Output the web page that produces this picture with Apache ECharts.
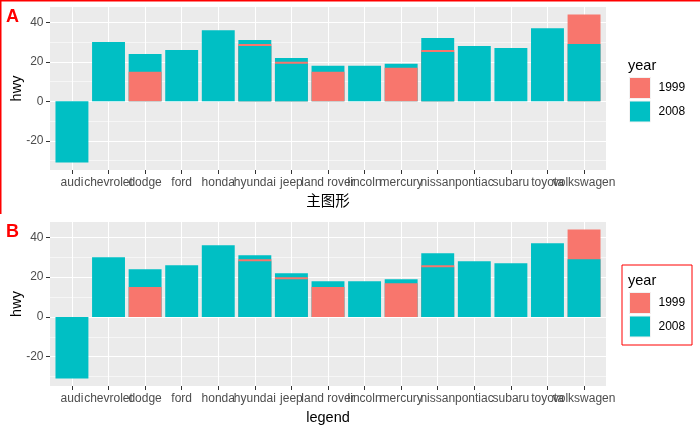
<!DOCTYPE html>
<html>
<head>
<meta charset="utf-8">
<script src="https://cdn.jsdelivr.net/npm/echarts@6/dist/echarts.min.js"></script>
<style>
html,body{margin:0;padding:0;background:#fff;}
#chart{width:700px;height:432px;}
</style>
</head>
<body>
<div id="chart"></div>
<script>
// ---- data ----
const categories = ['audi','chevrolet','dodge','ford','honda','hyundai','jeep','land rover','lincoln','mercury','nissan','pontiac','subaru','toyota','volkswagen'];
// visible bar layers (drawn back to front)
const hwy2008Back  = [-31, 30, 24, 26, 36, 31, 22, 18, 18, 19, 32, 28, 27, 37, null];
const hwy1999      = [null, null, 15, null, null, 29, 20, 15, null, 17, 26, null, null, null, 44];
const hwy2008Front = [null, null, null, null, null, 28, 19, null, null, null, 25, null, null, null, 29];
const yTicks = [-20, 0, 20, 40];
const yearLevels = ['1999', '2008'];
const panelLabels = ['A', 'B'];
const xTitles = ['主图形', 'legend'];
const yTitle = 'hwy';

// ---- styles ----
const FONT = 'Liberation Sans, Arial, Noto Sans CJK SC, sans-serif';
const COL1999 = '#F8766D', COL2008 = '#00BFC4';
const panels = [
  {left: 50, top: 7, width: 556, height: 163},
  {left: 50, top: 222, width: 556, height: 164}
];

const allVals = [].concat(hwy2008Back, hwy1999, hwy2008Front).filter(v => v != null);
const lo = Math.min(0, ...allVals), hi = Math.max(0, ...allVals);
const pad = (hi - lo) * 0.05;
const yMin = lo - pad, yMax = hi + pad;
const EXP = 0.6; // discrete axis expansion (ggplot)
const xMin = 1 - EXP, xMax = categories.length + EXP;
const xPos = categories.map((c, i) => i + 1);
const toPts = arr => arr.map((v, i) => [i + 1, v]);

const gridList = [], xList = [], yList = [];
// main panels (value axes: bars, gridlines, ticks)
panels.forEach((g, k) => {
  gridList.push(Object.assign({}, g, {show: true, backgroundColor: '#EBEBEB', borderWidth: 0, containLabel: false, outerBoundsMode: 'none'}));
  xList.push({
    type: 'value', gridIndex: k, min: xMin, max: xMax, minInterval: 1, maxInterval: 1,
    name: xTitles[k], nameLocation: 'middle', nameGap: 25, nameMoveOverlap: false,
    nameTextStyle: {fontSize: 14.5, color: '#000', fontFamily: FONT},
    axisLine: {show: false, onZero: false},
    axisTick: {show: true, length: 4, lineStyle: {color: '#333', width: 1}, customValues: xPos},
    axisLabel: {show: false},
    splitLine: {show: true, lineStyle: {color: '#fff', width: 1.1}},
    minorSplitLine: {show: false}
  });
  yList.push({
    type: 'value', gridIndex: k, min: yMin, max: yMax, minInterval: 20, maxInterval: 20,
    name: yTitle, nameLocation: 'middle', nameGap: 26, nameRotate: 90, nameMoveOverlap: false,
    nameTextStyle: {fontSize: 14.5, color: '#000', fontFamily: FONT},
    axisLine: {show: false, onZero: false},
    axisTick: {show: true, length: 4, lineStyle: {color: '#333', width: 1}, customValues: yTicks},
    axisLabel: {customValues: yTicks, margin: 6.5, fontSize: 12, color: '#4D4D4D', fontFamily: FONT},
    splitLine: {show: true, lineStyle: {color: '#fff', width: 1.1}},
    minorTick: {show: false, splitNumber: 2},
    minorSplitLine: {show: true, lineStyle: {color: '#fff', width: 0.55}}
  });
});
// category label strips: bands centred on the value positions 1..n
panels.forEach((g, k) => {
  const unit = g.width / (xMax - xMin);
  gridList.push({left: g.left + unit * (0.5 - xMin), top: g.top, width: unit * categories.length,
    height: g.height, show: false, containLabel: false, outerBoundsMode: 'none'});
  xList.push({
    type: 'category', gridIndex: 2 + k, data: categories,
    axisLine: {show: false, onZero: false}, axisTick: {show: false}, splitLine: {show: false},
    axisLabel: {interval: 0, margin: 7, fontSize: 12, color: '#4D4D4D', fontFamily: FONT, hideOverlap: false}
  });
  yList.push({type: 'value', gridIndex: 2 + k, show: false, min: yMin, max: yMax});
});

const option = {
  animation: false,
  backgroundColor: '#fff',
  textStyle: {fontFamily: FONT},
  grid: gridList,
  xAxis: xList,
  yAxis: yList,
  legend: panels.map((g, k) => ({
    data: yearLevels, orient: 'vertical', left: 629, top: g.top + 70, padding: 0,
    icon: 'rect', itemWidth: 21, itemHeight: 21, itemGap: 1.5, selectedMode: false,
    itemStyle: {borderColor: '#F2F2F2', borderWidth: 1},
    textStyle: {fontSize: 12, color: '#000', fontFamily: FONT, padding: [0, 0, 0, 3]}
  })),
  series: [],
  graphic: []
};

panels.forEach((g, k) => {
  const bw = 0.9 * g.width / (xMax - xMin);
  const common = {type: 'bar', xAxisIndex: k, yAxisIndex: k, barWidth: bw, barGap: '-100%',
    emphasis: {disabled: true}, silent: true};
  option.series.push(Object.assign({}, common, {name: '2008', data: toPts(hwy2008Back), itemStyle: {color: COL2008}}));
  option.series.push(Object.assign({}, common, {name: '1999', data: toPts(hwy1999), itemStyle: {color: COL1999}}));
  option.series.push(Object.assign({}, common, {name: '2008', data: toPts(hwy2008Front), itemStyle: {color: COL2008}}));

  option.graphic.push({type: 'text', left: 628, top: g.top + 52,
    style: {text: 'year', fontSize: 14.5, fill: '#000', fontFamily: FONT}});
  option.graphic.push({type: 'text', left: 6, top: g.top + 1,
    style: {text: panelLabels[k], fontSize: 18, fontWeight: 'bold', fill: '#FF0000', fontFamily: FONT}});
});

// red outline of panel A (top and left edges) and red box round panel B legend
option.graphic.push({type: 'line', shape: {x1: 0, y1: 0.75, x2: 700, y2: 0.75}, style: {stroke: '#FF0000', lineWidth: 1.5}, z: 100});
option.graphic.push({type: 'line', shape: {x1: 0.75, y1: 0, x2: 0.75, y2: 214}, style: {stroke: '#FF0000', lineWidth: 1.5}, z: 100});
option.graphic.push({type: 'rect', shape: {x: 622, y: 265, width: 70, height: 80}, style: {fill: 'none', stroke: '#FF0000', lineWidth: 1}, z: 100});

const chart = echarts.init(document.getElementById('chart'), null, {renderer: 'canvas'});
chart.setOption(option);
</script>
</body>
</html>
